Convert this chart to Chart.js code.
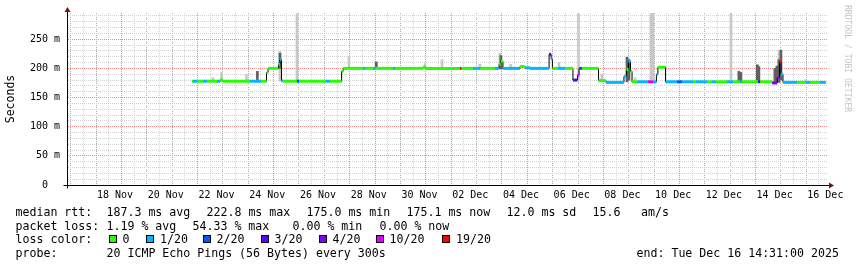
<!DOCTYPE html>
<html>
<head>
<meta charset="utf-8">
<script src="https://cdn.jsdelivr.net/npm/chart.js@4.4.1/dist/chart.umd.min.js"></script>
<style>
  body { margin: 0; background: #fff; }
  #wrap { position: relative; width: 857px; height: 267px; font-family: "DejaVu Sans Mono", monospace; font-size: 11.6px; color: #000; }
  canvas { position: absolute; left: 0; top: 0; }
  .row { position: absolute; left: 0; width: 857px; height: 14px; line-height: 14px; white-space: pre; }
  .row span { position: absolute; top: 0; }
  .row .box { width: 6px; height: 6px; top: 3px; border: 1px solid #000; }
  #mark { position: absolute; left: 843px; top: 5px; writing-mode: vertical-rl; font-size: 8.1px; line-height: 10px; color: #c4c4c4; }
</style>
</head>
<body>
<div id="wrap">
  <canvas id="chart" width="857" height="267"></canvas>
  <div class="row" style="top:205px">
    <span style="left:15.5px">median rtt:</span>
    <span style="left:106.5px">187.3 ms avg</span>
    <span style="left:206.5px">222.8 ms max</span>
    <span style="left:306.5px">175.0 ms min</span>
    <span style="left:406.5px">175.1 ms now</span>
    <span style="left:506.5px">12.0 ms sd</span>
    <span style="left:592.5px">15.6</span>
    <span style="left:641px">am/s</span>
  </div>
  <div class="row" style="top:219px">
    <span style="left:15.5px">packet loss:</span>
    <span style="left:106.5px">1.19 % avg</span>
    <span style="left:192.5px">54.33 % max</span>
    <span style="left:292.5px">0.00 % min</span>
    <span style="left:379.5px">0.00 % now</span>
  </div>
  <div class="row" id="lossRow" style="top:232px">
    <span style="left:15.5px">loss color:</span>
  </div>
  <div class="row" style="top:246px">
    <span style="left:15.5px">probe:</span>
    <span style="left:106.5px">20 ICMP Echo Pings (56 Bytes) every 300s</span>
    <span style="left:636.5px">end: Tue Dec 16 14:31:00 2025</span>
  </div>
  <div id="mark">RRDTOOL / TOBI OETIKER</div>
</div>
<script>
// time axis: days after 16 Nov 2025 00:00, window ends Tue Dec 16 14:31
const xMin = 0.60486;
const xMax = 30.60486;

const dayTickAt = [2.5, 4.5, 6.5, 8.5, 10.5, 12.5, 14.5, 16.5, 18.5, 20.5, 22.5, 24.5, 26.5, 28.5, 30.5];
const dayTickText = ['18 Nov', '20 Nov', '22 Nov', '24 Nov', '26 Nov', '28 Nov', '30 Nov', '02 Dec',
                     '04 Dec', '06 Dec', '08 Dec', '10 Dec', '12 Dec', '14 Dec', '16 Dec'];

// loss colors
const lossPings = [0, 1, 2, 3, 4, 10, 19];
const lossLabels = ['0', '1/20', '2/20', '3/20', '4/20', '10/20', '19/20'];
const lossColors = ['#26ff00', '#00b8ff', '#0059ff', '#5e00ff', '#7e00ff', '#dd00ff', '#ff0000'];
const lossBoxX = [108.5, 146, 202.5, 260.5, 318.5, 375.5, 442];

// median rtt, held from each start day until the next one
const medDay = [5.53, 5.57, 5.73, 5.97, 6.12, 6.52, 6.64, 6.76, 7.82, 8.25, 8.47, 8.53, 8.94, 9.00, 9.06, 9.12,
  9.67, 9.75, 10.82, 10.97, 11.43, 11.49, 12.27, 12.35, 12.67, 12.75, 13.46, 13.54, 14.64, 14.76, 16.10, 16.16,
  16.61, 16.89, 17.48, 17.64, 17.71, 17.79, 18.46, 18.66, 18.86, 19.61, 19.69, 19.74, 19.96, 20.24, 20.55, 20.73,
  20.79, 20.91, 21.56, 21.85, 22.56, 22.66, 22.74, 22.82, 22.88, 23.08, 23.51, 23.71, 23.84, 23.90, 24.20, 24.65,
  24.85, 25.28, 25.40, 25.84, 26.03, 26.19, 26.62, 26.86, 27.14, 27.22, 27.85, 27.93, 28.40, 28.60, 28.69, 28.75,
  28.83, 29.38, 29.74, 29.90, 30.29, 30.49];
const medMs = [178, 178, 178, 178, 178, 178, 180, 178, 178, 178, 193, 200, 207, 215, 179, 178,
  178, 178, 178, 178, 195, 200, 200, 200, 200, 200, 200, 200, 202, 200, 200, 200,
  200, 200, 200, 207, 212, 200, 203, 201, 200, 224, 216, 200, 200, 200, 180, 188,
  200, 200, 179, 176, 186, 198, 212, 195, 177, 177, 177, 177, 190, 202, 177, 177,
  177, 177, 177, 177, 177, 177, 177, 177, 177, 177, 177, 177, 175, 184, 211, 190,
  176, 176, 176, 176, 176, 176];
const medLoss = [0, 1, 0, 1, 0, 1, 0, 0, 1, 0, 0, 0, 0, 1, 1, 0,
  2, 0, 1, 0, 0, 0, 1, 0, 1, 0, 1, 0, 0, 0, 19, 0,
  1, 0, 1, 0, 0, 1, 0, 1, 1, 3, 1, 0, 1, 0, 3, 10,
  2, 0, 0, 1, 1, 0, 1, 0, 0, 1, 10, 1, 1, 0, 1, 2,
  1, 0, 1, 0, 1, 0, 1, 0, 1, 0, 3, 0, 4, 4, 19, 1,
  1, 0, 1, 0, 1, 0];
const medEnd = 30.53;

// smoke: spread of the pings (light = outer, dark = inner)
const smokeDay = [6.36, 6.70, 7.68, 9.00, 9.67, 11.72, 12.78, 14.72, 15.39, 16.88, 17.67, 18.10, 20.00, 20.77,
  21.69, 22.72, 23.00, 23.62, 23.70, 26.78, 27.82, 28.67, 29.73];
const smokeLo = [177, 177, 177, 178, 178, 199, 199, 199, 199, 199, 199, 199, 199, 181,
  177, 178, 177, 177, 177, 176, 176, 176, 176];
const smokeHi = [184, 193, 190, 229, 294, 221, 211, 208, 215, 207, 226, 207, 210, 294,
  190, 220, 184, 294, 294, 294, 206, 231, 181];
const darkDay = [8.11, 9.00, 12.80, 17.71, 22.68, 22.76, 27.09, 27.17, 27.82, 27.88, 28.51, 28.59, 28.67, 28.75];
const darkLo = [177, 200, 199, 199, 177, 180, 176, 176, 176, 176, 176, 176, 176, 180];
const darkHi = [195, 226, 211, 222, 219, 215, 195, 193, 206, 203, 200, 204, 215, 231];

function lossColor(n) {
  let c = lossColors[0];
  lossPings.forEach((p, i) => { if (n >= p) c = lossColors[i]; });
  return c;
}

// legend boxes
const lossRow = document.getElementById('lossRow');
lossLabels.forEach((lab, i) => {
  const b = document.createElement('span');
  b.className = 'box';
  b.style.left = lossBoxX[i] + 'px';
  b.style.background = lossColors[i];
  lossRow.appendChild(b);
  const t = document.createElement('span');
  t.style.left = (lossBoxX[i] + 14) + 'px';
  t.textContent = lab;
  lossRow.appendChild(t);
});

const medPts = medDay.map((d, i) => ({x: d, y: medMs[i]}));
medPts.push({x: medEnd, y: medMs[medMs.length - 1]});

const colPts = [];
medDay.forEach((d, i) => {
  const next = i + 1 < medDay.length ? medDay[i + 1] : medEnd;
  colPts.push({x: d, y: medMs[i], loss: medLoss[i]});
  colPts.push({x: next, y: medMs[i], loss: medLoss[i]});
  colPts.push({x: next, y: null, loss: medLoss[i]});
});

const arrows = {
  id: 'arrows',
  afterDraw(chart) {
    const {ctx, chartArea: a} = chart;
    const x0 = Math.round(a.left) + 0.5;
    const y0 = Math.round(a.bottom) + 0.5;
    ctx.save();
    ctx.strokeStyle = '#000';
    ctx.lineWidth = 1;
    ctx.beginPath();
    ctx.moveTo(x0, a.top); ctx.lineTo(x0, a.top - 3);
    ctx.moveTo(x0 - 4, y0); ctx.lineTo(x0, y0);
    ctx.moveTo(x0, y0); ctx.lineTo(x0, y0 + 3);
    ctx.moveTo(a.right, y0); ctx.lineTo(a.right + 2, y0);
    ctx.stroke();
    ctx.fillStyle = '#801010';
    ctx.beginPath();
    ctx.moveTo(x0 - 3, a.top - 1); ctx.lineTo(x0 + 3, a.top - 1); ctx.lineTo(x0, a.top - 6);
    ctx.closePath(); ctx.fill();
    ctx.beginPath();
    ctx.moveTo(a.right + 1, y0 - 3); ctx.lineTo(a.right + 1, y0 + 3); ctx.lineTo(a.right + 6, y0);
    ctx.closePath(); ctx.fill();
    ctx.restore();
  }
};

const tickFont = {family: 'DejaVu Sans Mono', size: 10};
const majorGrid = 'rgb(240,140,140)';
const minorGrid = 'rgb(210,210,210)';

new Chart(document.getElementById('chart'), {
  type: 'line',
  data: {
    datasets: [
      {
        data: colPts,
        borderWidth: 3,
        borderCapStyle: 'butt',
        spanGaps: false,
        segment: { borderColor: ctx => lossColor(colPts[ctx.p0DataIndex].loss) },
        pointRadius: 0,
        order: 0
      },
      {
        data: medPts,
        stepped: true,
        borderColor: '#000',
        borderWidth: 1,
        pointRadius: 0,
        order: 1
      },
      {
        type: 'bar',
        data: darkDay.map((d, i) => ({x: d, y: [darkLo[i], darkHi[i]]})),
        backgroundColor: '#606060',
        barThickness: 2,
        grouped: false,
        order: 2
      },
      {
        type: 'bar',
        data: smokeDay.map((d, i) => ({x: d, y: [smokeLo[i], smokeHi[i]]})),
        backgroundColor: '#c8c8c8',
        barThickness: 2,
        grouped: false,
        order: 3
      }
    ]
  },
  options: {
    responsive: false,
    animation: false,
    devicePixelRatio: 1,
    layout: { padding: { left: 0, right: 29, top: 13, bottom: 62 } },
    plugins: { legend: { display: false }, tooltip: { enabled: false } },
    scales: {
      x: {
        type: 'linear',
        min: xMin,
        max: xMax,
        offset: false,
        afterFit: s => { s.height = 20; },
        afterBuildTicks: s => {
          const t = [];
          for (let v = 1; v <= 30.5; v += 0.5) t.push({value: v});
          s.ticks = t;
        },
        ticks: {
          autoSkip: false,
          maxRotation: 0,
          minRotation: 0,
          padding: 4,
          color: '#000',
          font: tickFont,
          callback: v => {
            const i = dayTickAt.indexOf(v);
            return i < 0 ? '' : dayTickText[i];
          }
        },
        grid: {
          drawTicks: false,
          lineWidth: 1,
          color: ctx => (ctx.tick && Number.isInteger(ctx.tick.value)) ? majorGrid : minorGrid
        },
        border: { color: '#000', width: 1, dash: [1, 1] }
      },
      y: {
        min: 0,
        max: 295,
        afterFit: s => { s.width = 67; },
        afterBuildTicks: s => {
          const t = [];
          for (let v = 0; v <= 290; v += 10) t.push({value: v});
          s.ticks = t;
        },
        title: {
          display: true,
          text: 'Seconds',
          color: '#000',
          font: {family: 'DejaVu Sans Mono', size: 11.5},
          padding: {top: 4.5, bottom: 0}
        },
        ticks: {
          autoSkip: false,
          padding: 7,
          color: '#000',
          font: tickFont,
          callback: v => (v % 50 !== 0) ? '' : (v === 0 ? '0  ' : v + ' m')
        },
        grid: {
          drawTicks: false,
          lineWidth: 1,
          color: ctx => (ctx.tick && ctx.tick.value % 50 === 0) ? majorGrid : minorGrid
        },
        border: { color: '#000', width: 1, dash: [1, 1] }
      }
    }
  },
  plugins: [arrows]
});
</script>
</body>
</html>
